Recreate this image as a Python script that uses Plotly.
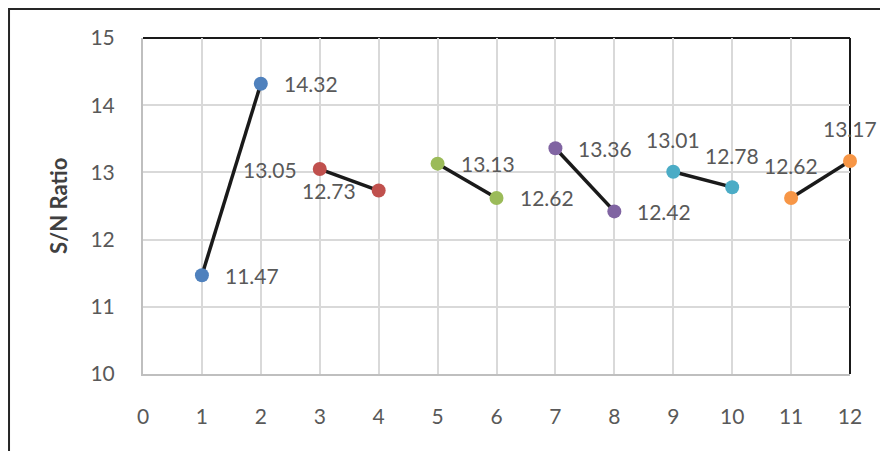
import plotly.graph_objects as go

# Run numbers and their S/N ratios (each consecutive pair is one factor)
run_no = [1, 2, 3, 4, 5, 6, 7, 8, 9, 10, 11, 12]
sn_ratio = [11.47, 14.32, 13.05, 12.73, 13.13, 12.62, 13.36, 12.42, 13.01, 12.78, 12.62, 13.17]
pair_colors = ["#4F81BD", "#C0504D", "#9BBB59", "#8064A2", "#4BACC6", "#F79646"]
label_side = ["right", "right", "left", "left", "right", "right",
              "right", "right", "above", "above", "above", "above"]

x_ticks = list(range(0, 13))
y_ticks = [10, 11, 12, 13, 14, 15]

FONT = "Lato, 'Open Sans', sans-serif"
TXT = "#595959"
FS = 21

fig = go.Figure()

for i, color in enumerate(pair_colors):
    xs = run_no[2 * i:2 * i + 2]
    ys = sn_ratio[2 * i:2 * i + 2]
    fig.add_trace(go.Scatter(
        x=xs, y=ys, mode="lines+markers",
        line=dict(color="#1A1A1A", width=3.5),
        marker=dict(color=color, size=14, line=dict(width=0)),
        cliponaxis=False, showlegend=False, hoverinfo="x+y",
    ))

# value labels next to each point
for x, y, side in zip(run_no, sn_ratio, label_side):
    ann = dict(x=x, y=y, xref="x", yref="y", text=f"{y:.2f}", showarrow=False,
               font=dict(family=FONT, size=FS, color=TXT))
    if side == "right":
        ann.update(xanchor="left", yanchor="middle", xshift=21)
    elif side == "left":
        ann.update(xanchor="right", yanchor="middle", xshift=-21)
    else:
        ann.update(xanchor="center", yanchor="middle", yshift=32)
    fig.add_annotation(**ann)

# y-axis title
fig.add_annotation(x=-0.1202, y=0.5, xref="paper", yref="paper", text="<b>S/N Ratio</b>",
                   textangle=-90, showarrow=False, xanchor="center", yanchor="middle",
                   font=dict(family=FONT, size=22, color="#404040"))

shapes = [
    # dark top and right edges of the plot frame
    dict(type="line", xref="paper", yref="paper", x0=0, x1=1, y0=1, y1=1,
         line=dict(color="#1A1A1A", width=2), layer="between"),
    dict(type="line", xref="paper", yref="paper", x0=1, x1=1, y0=0, y1=1,
         line=dict(color="#1A1A1A", width=2), layer="between"),
    # outer chart border
    dict(type="rect", xref="paper", yref="paper", x0=-0.1895, x1=1.2, y0=-0.4, y1=1.0863,
         line=dict(color="#262626", width=2), fillcolor="rgba(0,0,0,0)", layer="above"),
]

fig.update_layout(
    width=880, height=451,
    margin=dict(l=143, r=30, t=38, b=77),
    paper_bgcolor="white", plot_bgcolor="white",
    font=dict(family=FONT, size=FS, color=TXT),
    shapes=shapes,
    xaxis=dict(range=[0, 12], tickvals=x_ticks, showgrid=True, gridcolor="#D9D9D9", gridwidth=1.5,
               zeroline=False, showline=True, linecolor="#BFBFBF", linewidth=2,
               ticks="", ticklabelstandoff=23, tickfont=dict(family=FONT, size=FS, color=TXT),
               automargin=False),
    yaxis=dict(range=[10, 15], tickvals=y_ticks, showgrid=True, gridcolor="#D9D9D9", gridwidth=1.5,
               zeroline=False, showline=True, linecolor="#BFBFBF", linewidth=2,
               ticks="", ticklabelstandoff=22, tickfont=dict(family=FONT, size=FS, color=TXT),
               automargin=False),
)

fig.write_html("out.html")
